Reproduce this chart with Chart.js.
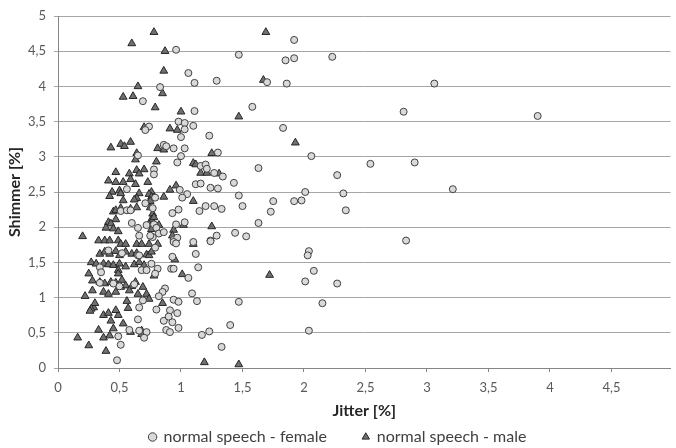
<!DOCTYPE html>
<html>
<head>
<meta charset="utf-8">
<script src="https://cdn.jsdelivr.net/npm/chart.js@4.4.0/dist/chart.umd.min.js"></script>
<style>
html, body { margin: 0; padding: 0; background: #fff; }
#wrap { width: 676px; height: 448px; }
</style>
</head>
<body>
<div id="wrap"><canvas id="chart"></canvas></div>
<script>
// --- Data ---
const seriesNames = ['normal speech - female', 'normal speech - male'];

const femaleJitter = [
    0.96, 1.47, 1.06, 0.83, 1.11, 1.29, 0.69, 1.11,
    1.92, 1.85, 1.92, 2.23, 1.70, 1.86, 1.58, 2.81, 1.83, 2.06, 1.63, 2.54, 2.90, 2.27, 1.43, 1.47, 2.01, 2.32,
    1.50, 1.75, 1.92, 1.98, 1.73, 2.34, 1.63, 1.44, 1.53, 2.83, 2.04, 2.03, 2.08, 2.01, 2.27, 1.47, 2.15, 1.40, 2.04,
    3.06, 3.90, 3.21,
    0.74, 0.71, 0.98, 1.03, 1.10, 1.00, 1.03, 1.23, 0.86, 0.88,
    0.94, 1.03, 0.65, 1.00, 0.97, 1.30, 0.78, 0.78, 1.16, 1.20,
    1.21, 1.27, 1.34, 1.12, 1.16, 1.24, 1.30, 0.99, 1.05, 1.01,
    0.56, 0.71, 0.79, 1.20, 1.27, 1.33, 1.15, 0.98, 0.93, 0.51,
    0.56, 0.59, 0.77, 0.60, 0.65, 0.72, 0.78, 0.80, 0.82, 0.77,
    0.86, 0.75, 0.66, 0.96, 1.03, 1.24, 1.29, 0.94, 1.10, 0.97,
    0.79, 0.94, 0.96, 1.24, 1.12, 0.41, 0.52, 0.65, 0.66, 0.93,
    0.34, 0.35, 0.76, 0.81, 0.68, 0.72, 0.79, 0.92, 0.94, 1.06,
    1.14, 0.34, 0.50, 0.45, 0.62, 0.87, 0.85, 0.82, 0.69, 0.94,
    0.98, 1.09, 1.13, 0.66, 0.80, 0.91, 0.97, 0.86, 0.93, 0.90,
    0.65, 0.58, 0.66, 0.72, 0.70, 0.49, 0.51, 0.48, 0.88, 0.91,
    0.98, 1.17, 1.23, 1.33
];
const femaleShimmer = [
    4.52, 4.45, 4.19, 3.99, 4.05, 4.08, 3.79, 3.65,
    4.66, 4.37, 4.40, 4.42, 4.06, 4.04, 3.71, 3.64, 3.41, 3.01, 2.84, 2.90, 2.92, 2.74, 2.63, 2.45, 2.50, 2.48,
    2.30, 2.37, 2.37, 2.38, 2.22, 2.24, 2.06, 1.92, 1.87, 1.81, 1.66, 1.60, 1.38, 1.23, 1.20, 0.94, 0.92, 0.61, 0.53,
    4.04, 3.58, 2.54,
    3.43, 3.38, 3.50, 3.48, 3.44, 3.28, 3.39, 3.30, 3.17, 3.15,
    3.12, 3.12, 3.02, 3.01, 2.92, 3.06, 2.82, 2.75, 2.87, 2.89,
    2.83, 2.77, 2.72, 2.61, 2.62, 2.56, 2.55, 2.53, 2.47, 2.42,
    2.54, 2.34, 2.42, 2.30, 2.30, 2.26, 2.23, 2.25, 2.20, 2.23,
    2.24, 2.24, 2.27, 2.06, 1.99, 2.03, 2.04, 1.99, 1.91, 1.86,
    1.93, 1.88, 1.88, 2.04, 2.07, 1.81, 1.88, 1.82, 1.79, 1.85,
    1.71, 1.79, 1.77, 1.80, 1.62, 1.67, 1.63, 1.60, 1.60, 1.58,
    1.43, 1.36, 1.48, 1.41, 1.39, 1.39, 1.34, 1.41, 1.41, 1.28,
    1.43, 1.21, 1.16, 1.20, 1.19, 1.13, 1.08, 1.02, 0.96, 0.97,
    0.94, 1.06, 0.95, 0.86, 0.83, 0.82, 0.78, 0.67, 0.65, 0.73,
    0.69, 0.54, 0.53, 0.51, 0.43, 0.45, 0.33, 0.11, 0.54, 0.51,
    0.57, 0.47, 0.52, 0.30
];

const maleJitter = [
    0.78, 0.60, 0.87, 0.86, 0.65, 0.53, 0.61, 0.85, 0.79, 1.00, 1.47,
    1.69, 1.67, 1.93, 1.72, 1.47,
    0.70, 0.91, 0.97, 0.43, 0.51, 0.54, 0.59, 0.81, 0.86, 0.64,
    0.63, 1.25, 0.80, 0.47, 0.58, 0.64, 0.66, 0.70, 0.41, 0.47,
    0.53, 0.59, 0.63, 0.73, 1.10, 1.12, 1.16, 1.21, 1.31, 0.96,
    0.91, 0.86, 0.76, 0.74, 0.76, 0.78, 0.66, 0.64, 0.62, 0.44,
    0.42, 0.50, 0.51, 0.53, 1.10, 0.45, 0.47, 0.51, 0.59, 0.64,
    0.75, 0.75, 0.77, 0.76, 0.78, 0.41, 0.47, 0.43, 0.39, 0.45,
    0.49, 0.74, 0.76, 0.82, 0.94, 1.02, 0.93, 1.25, 0.20, 0.33,
    0.38, 0.42, 0.49, 0.51, 0.55, 0.64, 0.68, 0.74, 0.81, 1.10,
    0.34, 0.38, 0.42, 0.47, 0.50, 0.55, 0.60, 0.64, 0.72, 0.74,
    0.76, 0.95, 0.27, 0.31, 0.37, 0.41, 0.45, 0.50, 0.55, 0.62,
    0.66, 0.70, 1.01, 0.78, 0.49, 0.49, 0.25, 0.28, 0.34, 0.38,
    0.43, 0.47, 0.52, 0.55, 0.60, 0.63, 0.69, 0.72, 0.28, 0.22,
    0.37, 0.41, 0.47, 0.51, 0.58, 0.65, 0.74, 0.56, 0.57, 0.29,
    0.30, 0.27, 0.26, 0.85, 0.37, 0.41, 0.43, 0.49, 0.47, 0.53,
    0.59, 0.45, 0.42, 0.37, 0.33, 0.16, 0.25, 0.39, 1.19, 0.68,
    0.68
];
const maleShimmer = [
    4.77, 4.61, 4.50, 4.22, 4.00, 3.85, 3.86, 3.90, 3.70, 3.64, 3.57,
    4.77, 4.09, 3.20, 1.32, 0.05,
    3.42, 3.40, 3.38, 3.13, 3.18, 3.15, 3.21, 3.12, 3.10, 3.05,
    2.96, 3.05, 2.93, 2.78, 2.76, 2.81, 2.76, 2.82, 2.66, 2.64,
    2.64, 2.68, 2.61, 2.64, 2.91, 2.89, 2.77, 2.77, 2.76, 2.59,
    2.53, 2.43, 2.50, 2.47, 2.43, 2.42, 2.48, 2.41, 2.39, 2.50,
    2.44, 2.52, 2.48, 2.38, 2.37, 2.22, 2.24, 2.27, 2.26, 2.28,
    2.28, 2.37, 2.19, 2.11, 2.14, 2.07, 2.11, 2.05, 1.99, 1.98,
    1.94, 2.04, 1.97, 2.03, 1.96, 2.03, 1.88, 2.01, 1.87, 1.81,
    1.81, 1.81, 1.81, 1.76, 1.76, 1.76, 1.76, 1.76, 1.76, 1.76,
    1.62, 1.65, 1.62, 1.66, 1.60, 1.65, 1.62, 1.63, 1.61, 1.60,
    1.65, 1.54, 1.50, 1.48, 1.48, 1.47, 1.46, 1.48, 1.44, 1.47,
    1.50, 1.46, 1.33, 1.31, 1.39, 1.34, 1.34, 1.24, 1.22, 1.20,
    1.22, 1.21, 1.25, 1.17, 1.16, 1.22, 1.15, 1.05, 1.10, 1.02,
    1.08, 1.05, 1.08, 1.15, 1.10, 1.05, 0.98, 0.95, 0.85, 0.86,
    0.92, 0.84, 0.81, 0.92, 0.75, 0.78, 0.67, 0.75, 0.82, 0.63,
    0.51, 0.56, 0.46, 0.43, 0.54, 0.43, 0.32, 0.24, 0.08, 0.53,
    0.48
];

const toPoints = (xs, ys) => xs.map((x, i) => ({ x: x, y: ys[i] }));
const comma = v => String(v).replace('.', ',');

const FONT = 'Lato, "Open Sans", sans-serif';

new Chart(document.getElementById('chart').getContext('2d'), {
    type: 'scatter',
    data: {
        datasets: [{
            // trailing spaces widen the gap between the two legend entries
            label: seriesNames[0] + '        ',
            data: toPoints(femaleJitter, femaleShimmer),
            pointStyle: 'circle',
            pointRadius: 3.5,
            borderWidth: 1,
            backgroundColor: '#d9d9d9',
            borderColor: '#404040'
        }, {
            label: seriesNames[1],
            data: toPoints(maleJitter, maleShimmer),
            pointStyle: 'triangle',
            pointRadius: 4.5,
            borderWidth: 1,
            backgroundColor: '#707070',
            borderColor: '#262626'
        }]
    },
    options: {
        responsive: true,
        maintainAspectRatio: false,
        animation: false,
        events: [],
        // legend box has empty space below its text, let it run past the bottom edge
        layout: { padding: { top: 16, right: 0, left: 0, bottom: -7 } },
        scales: {
            x: {
                type: 'linear',
                min: 0,
                max: 4.98,
                afterFit: s => { s.height = 58; },
                ticks: { stepSize: 0.5, includeBounds: false, padding: 8, color: '#595959', font: { family: FONT, size: 13 }, callback: comma },
                grid: { drawOnChartArea: false, drawTicks: true, tickLength: 4, color: '#868686' },
                border: { display: true, color: '#868686' },
                title: { display: true, text: 'Jitter [%]', color: '#262626', font: { family: FONT, size: 16, weight: 'bold' }, padding: { top: 0, bottom: 6 } }
            },
            y: {
                min: 0,
                max: 5,
                afterFit: s => { s.width = 58; },
                ticks: { stepSize: 0.5, padding: 8, color: '#595959', font: { family: FONT, size: 13 }, callback: comma },
                grid: { color: '#a6a6a6', tickLength: 4 },
                border: { display: true, color: '#868686' },
                title: { display: true, text: 'Shimmer [%]', color: '#262626', font: { family: FONT, size: 16, weight: 'bold' }, padding: { top: 5, bottom: 0 } }
            }
        },
        plugins: {
            tooltip: { enabled: false },
            legend: {
                position: 'bottom',
                labels: { usePointStyle: true, boxWidth: 6, boxHeight: 6, padding: 3, color: '#404040', font: { family: FONT, size: 16 } }
            }
        }
    }
});
</script>
</body>
</html>
